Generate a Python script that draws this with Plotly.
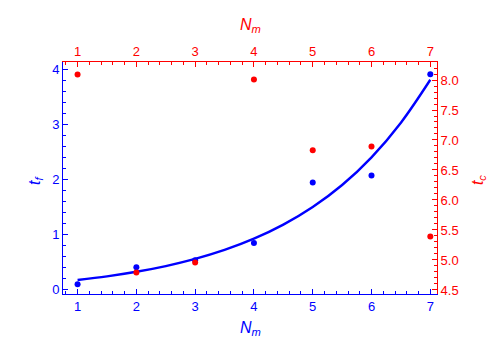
import plotly.graph_objects as go

# Data
n_m = [1, 2, 3, 4, 5, 6, 7]
t_f = [0.09, 0.40, 0.53, 0.84, 1.94, 2.07, 3.91]
t_c = [8.09, 4.79, 4.96, 8.01, 6.83, 6.89, 5.39]

# fitted curve
fit_x = [1, 1.5, 2, 2.5, 3, 3.5, 4, 4.5, 5, 5.5, 6, 6.5, 7]
fit_y = [0.17, 0.236, 0.319, 0.423, 0.553, 0.716, 0.92, 1.176, 1.496, 1.896, 2.40, 3.03, 3.81]

x_ticks = [1, 2, 3, 4, 5, 6, 7]
yl_ticks = [0, 1, 2, 3, 4]
yr_ticks = [4.5, 5.0, 5.5, 6.0, 6.5, 7.0, 7.5, 8.0]

BLUE = "#0000ff"
RED = "#ff0000"
FONT = "Liberation Sans"

fig = go.Figure()
fig.add_trace(go.Scatter(x=fit_x, y=fit_y, mode="lines", line=dict(color=BLUE, width=2.4, shape="spline"),
                         xaxis="x", yaxis="y", showlegend=False, hoverinfo="skip"))
fig.add_trace(go.Scatter(x=n_m, y=t_f, mode="markers", marker=dict(color=BLUE, size=6),
                         xaxis="x", yaxis="y", showlegend=False))
fig.add_trace(go.Scatter(x=n_m, y=t_c, mode="markers", marker=dict(color=RED, size=6),
                         xaxis="x2", yaxis="y2", showlegend=False))

def axis(color, rng, tickvals, minor_dtick, **kw):
    d = dict(range=rng, tickvals=tickvals, ticks="inside", ticklen=5, tickwidth=1,
             tickcolor=color, showline=True, linecolor=color, linewidth=1,
             tickfont=dict(color=color, size=13, family=FONT),
             showgrid=False, zeroline=False, mirror=False,
             minor=dict(dtick=minor_dtick, ticks="inside", ticklen=3, tickcolor=color, showgrid=False))
    d.update(kw)
    return d

xr = [0.752, 7.114]
# the page body has an 8px margin, compensated here
fig.update_layout(
    width=500, height=357,
    margin=dict(l=55, r=71, t=54, b=71, autoexpand=False),
    paper_bgcolor="white", plot_bgcolor="white",
    font=dict(family=FONT),
    xaxis=axis(BLUE, xr, x_ticks, 0.2, side="bottom", tick0=0, automargin=False),
    xaxis2=axis(RED, xr, x_ticks, 0.2, side="top", overlaying="x", anchor="y", tick0=0, automargin=False),
    yaxis=axis(BLUE, [-0.085, 4.133], yl_ticks, 0.2, side="left", tick0=0, automargin=False),
    yaxis2=axis(RED, [4.433, 8.3], yr_ticks, 0.1, side="right", overlaying="y", anchor="x",
                tickformat=".1f", tick0=0, automargin=False),
)

ann_font_b = dict(color=BLUE, size=16, family=FONT)
ann_font_r = dict(color=RED, size=16, family=FONT)
fig.add_annotation(text="<i>N</i><sub><i>m</i></sub>", xref="paper", yref="paper", x=0.5, y=-0.1466,
                   xanchor="center", yanchor="middle", showarrow=False, font=ann_font_b)
fig.add_annotation(text="<i>N</i><sub><i>m</i></sub>", xref="paper", yref="paper", x=0.5, y=1.159,
                   xanchor="center", yanchor="middle", showarrow=False, font=ann_font_r)
fig.add_annotation(text="<i>t</i><sub><i>f</i></sub>", xref="paper", yref="paper", x=-0.0749, y=0.491,
                   xanchor="center", yanchor="middle", showarrow=False, textangle=-90, font=ann_font_b)
fig.add_annotation(text="<i>t</i><sub><i>c</i></sub>", xref="paper", yref="paper", x=1.1096, y=0.491,
                   xanchor="center", yanchor="middle", showarrow=False, textangle=-90, font=ann_font_r)

fig.write_html("out.html")
